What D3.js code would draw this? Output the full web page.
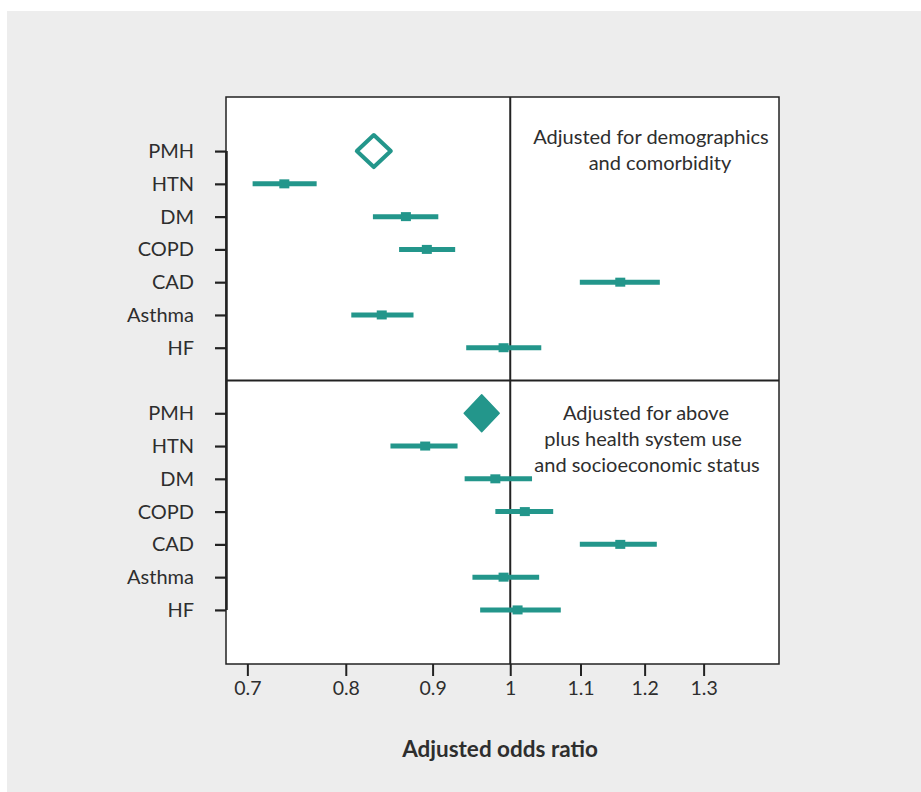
<!DOCTYPE html>
<html>
<head>
<meta charset="utf-8">
<script src="https://cdn.jsdelivr.net/npm/d3@7"></script>
<style>
  body { margin: 0; background: #fff; }
  text { font-family: Lato, "Noto Sans", sans-serif; fill: #2e2e2e; }
</style>
</head>
<body>
<div id="chart"></div>
<script>
// conditions, same order in both panels
var rows = ["PMH", "HTN", "DM", "COPD", "CAD", "Asthma", "HF"];

// panel 1 : adjusted for demographics and comorbidity
var demoOR   = [0.831, 0.736, 0.868, 0.893, 1.161, 0.840, 0.991];
var demoLow  = [null,  0.705, 0.830, 0.860, 1.099, 0.806, 0.942];
var demoHigh = [null,  0.769, 0.907, 0.928, 1.225, 0.877, 1.043];

// panel 2 : adjusted for above plus health system use and SES
var fullOR   = [0.962, 0.891, 0.980, 1.020, 1.161, 0.991, 1.010];
var fullLow  = [null,  0.850, 0.940, 0.980, 1.099, 0.950, 0.960];
var fullHigh = [null,  0.931, 1.030, 1.060, 1.220, 1.040, 1.071];

var xTicks = [0.7, 0.8, 0.9, 1, 1.1, 1.2, 1.3];
var notes1 = ["Adjusted for demographics", "and comorbidity"];
var notes2 = ["Adjusted for above", "plus health system use", "and socioeconomic status"];
var xTitle = "Adjusted odds ratio";

var W = 921, H = 792;
var box = {left: 226, right: 779, top: 97, bottom: 664};
var teal = "#23968b", ink = "#222";

var svg = d3.select("#chart").append("svg")
    .attr("width", W).attr("height", H);

// grey card
svg.append("rect")
    .attr("x", 7).attr("y", 11).attr("width", W - 7).attr("height", H - 11)
    .attr("fill", "#ededed");

// one slot per row, plus an empty slot where the panels meet
var keys = rows.map(function(r) { return "a_" + r; })
    .concat(["gap"])
    .concat(rows.map(function(r) { return "b_" + r; }));

var x = d3.scaleLog().domain([0.68, 1.44]).range([box.left, box.right]);
var y = d3.scalePoint().domain(keys).range([box.top, box.bottom]).padding(1.65);

svg.append("rect")
    .attr("x", box.left).attr("y", box.top)
    .attr("width", box.right - box.left).attr("height", box.bottom - box.top)
    .attr("fill", "#fff").attr("stroke", ink).attr("stroke-width", 1.5);

// divider between panels
svg.append("line")
    .attr("x1", box.left).attr("x2", box.right)
    .attr("y1", y("gap")).attr("y2", y("gap"))
    .attr("stroke", ink).attr("stroke-width", 2);

// reference line at OR = 1
svg.append("line")
    .attr("x1", x(1)).attr("x2", x(1))
    .attr("y1", box.top).attr("y2", box.bottom)
    .attr("stroke", ink).attr("stroke-width", 2);

// y axis
var yAxis = d3.axisLeft(y)
    .tickValues(keys.filter(function(k) { return k !== "gap"; }))
    .tickSize(11).tickPadding(21)
    .tickFormat(function(k) { return k.slice(2); });

var gy = svg.append("g").attr("transform", "translate(" + box.left + ",0)").call(yAxis);
gy.select(".domain").remove();
gy.selectAll(".tick line").attr("stroke", ink).attr("stroke-width", 2.2);
gy.selectAll(".tick text").style("font-size", "20px").attr("fill", "#2e2e2e");

svg.append("line")
    .attr("x1", box.left + 0.5).attr("x2", box.left + 0.5)
    .attr("y1", y("a_PMH")).attr("y2", y("b_HF"))
    .attr("stroke", ink).attr("stroke-width", 2.5);

// x axis
var xAxis = d3.axisBottom(x)
    .tickValues(xTicks)
    .tickSize(12).tickPadding(5)
    .tickFormat(function(d) { return String(d); });

var gx = svg.append("g").attr("transform", "translate(0," + box.bottom + ")").call(xAxis);
gx.select(".domain").remove();
gx.selectAll(".tick line").attr("stroke", ink).attr("stroke-width", 2);
gx.selectAll(".tick text").style("font-size", "19.5px").attr("fill", "#2e2e2e");

svg.append("text")
    .attr("x", 500).attr("y", 757)
    .attr("text-anchor", "middle")
    .style("font-size", "22.5px").style("font-weight", "bold")
    .text(xTitle);

function drawPanel(prefix, or, lo, hi, hollow) {
  var g = svg.append("g");
  var data = rows.map(function(r, i) {
    return {key: prefix + r, or: or[i], lo: lo[i], hi: hi[i]};
  });

  var ci = data.filter(function(d) { return d.lo != null; });

  g.selectAll("line.ci")
    .data(ci)
    .enter().append("line")
    .attr("class", "ci")
    .attr("x1", function(d) { return x(d.lo); })
    .attr("x2", function(d) { return x(d.hi); })
    .attr("y1", function(d) { return y(d.key); })
    .attr("y2", function(d) { return y(d.key); })
    .attr("stroke", teal).attr("stroke-width", 5);

  g.selectAll("rect.pt")
    .data(ci)
    .enter().append("rect")
    .attr("class", "pt")
    .attr("x", function(d) { return x(d.or) - 5; })
    .attr("y", function(d) { return y(d.key) - 4.5; })
    .attr("width", 10).attr("height", 9)
    .attr("fill", teal);

  // summary diamond (PMH)
  var pm = data[0];
  var cx = x(pm.or), cy = y(pm.key);
  var hw = hollow ? 17 : 17.5, hh = hollow ? 16 : 18.5;
  g.append("path")
    .attr("d", "M" + (cx - hw) + "," + cy + "L" + cx + "," + (cy - hh) +
               "L" + (cx + hw) + "," + cy + "L" + cx + "," + (cy + hh) + "Z")
    .attr("fill", hollow ? "none" : teal)
    .attr("stroke", teal)
    .attr("stroke-width", hollow ? 4 : 1.5)
    .attr("stroke-linejoin", "round");
}

drawPanel("a_", demoOR, demoLow, demoHigh, true);
drawPanel("b_", fullOR, fullLow, fullHigh, false);

// panel notes
function note(lines, cx, y0) {
  var t = svg.append("text").attr("text-anchor", "middle").style("font-size", "20px");
  lines.forEach(function(s, i) {
    t.append("tspan").attr("x", cx[i]).attr("y", y0 + i * 26).text(s);
  });
}
note(notes1, [651, 660], 144);
note(notes2, [646, 643, 647], 420);
</script>
</body>
</html>
